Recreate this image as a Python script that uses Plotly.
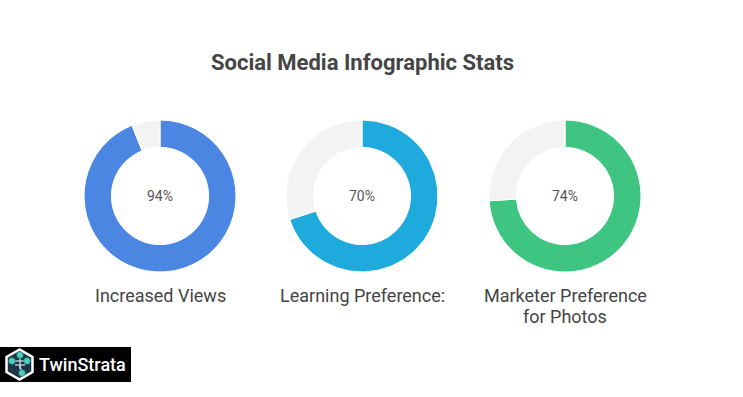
import plotly.graph_objects as go
import math

title = "Social Media Infographic Stats"
categories = ["Increased Views", "Learning Preference:", "Marketer Preference<br>for Photos"]
percent_values = [94, 70, 74]
colors = ["#4A86E2", "#1EAADC", "#3DC581"]
rest_color = "#F3F3F3"

W, H = 743, 397
fig = go.Figure()

centers_x = [160, 362, 565]
cy = 196
R = 76

def px(x):
    return x / W

def py(y):
    return 1 - y / H

for i, (cat, v, c) in enumerate(zip(categories, percent_values, colors)):
    cx = centers_x[i]
    fig.add_trace(go.Pie(
        values=[v, 100 - v],
        labels=[cat.replace("<br>", " "), "Other"],
        marker=dict(colors=[c, rest_color], line=dict(color="white", width=1)),
        hole=0.64,
        sort=False,
        direction="clockwise",
        rotation=0,
        textinfo="none",
        hoverinfo="label+percent",
        showlegend=False,
        domain=dict(x=[px(cx - R), px(cx + R)], y=[py(cy + R), py(cy - R)]),
    ))
    fig.add_annotation(x=px(cx), y=py(cy), xref="paper", yref="paper",
                       text=f"{v}%", showarrow=False, xanchor="center", yanchor="middle",
                       font=dict(family="Roboto, sans-serif", size=14, color="#555555"))
    for j, line in enumerate(cat.split("<br>")):
        fig.add_annotation(x=px(cx), y=py(295 + 21 * j), xref="paper", yref="paper",
                           text=line, showarrow=False, xanchor="center", yanchor="middle",
                           font=dict(family="Roboto, sans-serif", size=18, color="#444444"))

fig.add_annotation(x=px(362), y=py(62), xref="paper", yref="paper",
                   text=f"<b>{title}</b>", showarrow=False, xanchor="center", yanchor="middle",
                   font=dict(family="Roboto, sans-serif", size=22, color="#454545"))

# logo
shapes = [dict(type="rect", xref="paper", yref="paper", x0=0, x1=px(131),
               y0=py(382), y1=py(347), fillcolor="black", line=dict(width=0), layer="above")]
hx, hy, hr = 19.5, 364.5, 15
pts = []
for k in range(6):
    a = math.radians(90 + 60 * k)
    pts.append((px(hx + hr * math.cos(a)), py(hy - hr * math.sin(a))))
path = "M " + " L ".join(f"{x},{y}" for x, y in pts) + " Z"
shapes.append(dict(type="path", xref="paper", yref="paper", path=path,
                   fillcolor="#1d3446", line=dict(color="white", width=2.5), layer="above"))
# connecting lines
for (x0, y0, x1, y1) in [(20, 355, 20, 369), (12, 361, 27, 361), (15, 365, 25, 365), (20, 366, 22, 373)]:
    shapes.append(dict(type="line", xref="paper", yref="paper",
                       x0=px(x0), y0=py(y0), x1=px(x1), y1=py(y1),
                       line=dict(color="#cfe8f0", width=1.2), layer="above"))
for (ccx, ccy) in [(20, 355), (12, 361), (27, 361), (22, 373)]:
    r = 3.2
    shapes.append(dict(type="circle", xref="paper", yref="paper",
                       x0=px(ccx - r), x1=px(ccx + r), y0=py(ccy + r), y1=py(ccy - r),
                       fillcolor="#4fd1b4", line=dict(color="#2a8fa0", width=0.8), layer="above"))
fig.add_annotation(x=px(37), y=py(364.5), xref="paper", yref="paper",
                   text="TwinStrata", showarrow=False, xanchor="left", yanchor="middle",
                   font=dict(family="Roboto, sans-serif", size=18, color="white", weight=500))

fig.update_layout(width=W, height=H, margin=dict(l=0, r=0, t=0, b=0),
                  paper_bgcolor="white", plot_bgcolor="white", shapes=shapes)
fig.write_html("out.html", config={"displayModeBar": False},
               post_script="document.body.style.margin='0';")
